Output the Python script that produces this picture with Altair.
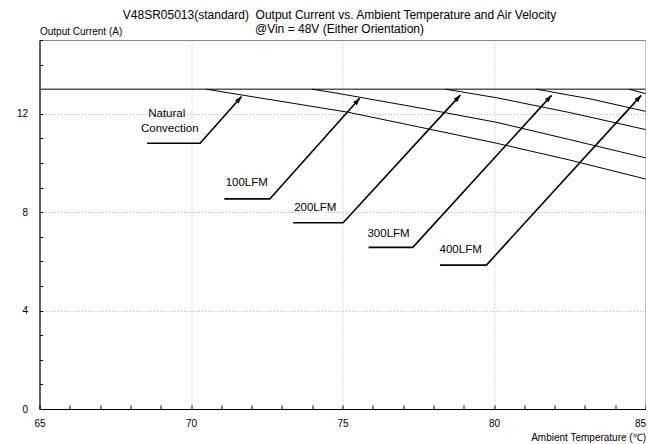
import math
import altair as alt
import pandas as pd

F = "Liberation Sans"

# ---- curve data (Ambient temperature °C, output current A) ----
nat_t = [70.5, 72.5, 75.2, 77.5, 80.1, 82.5, 85.0]
nat_i = [13.0, 12.6, 12.06, 11.47, 10.8, 10.12, 9.35]
lfm100_t = [74.0, 74.85, 77.5, 80.1, 82.5, 85.0]
lfm100_i = [13.0, 12.83, 12.25, 11.65, 10.95, 10.21]
lfm200_t = [78.4, 80.1, 82.5, 85.0]
lfm200_i = [13.0, 12.65, 12.05, 11.36]
lfm300_t = [81.4, 83.2, 85.0]
lfm300_i = [13.0, 12.6, 12.1]
lfm400_t = [84.45, 85.0]
lfm400_i = [13.0, 12.82]
max_t = [65.0, 85.0]
max_i = [13.0, 13.0]

# ---- annotation callouts ----
ann_names = ["Natural Convection", "100LFM", "200LFM", "300LFM", "400LFM"]
ann_ux = [68.55, 71.1, 73.37, 75.86, 78.22]   # underline start
ann_ex = [70.30, 72.6, 75.02, 77.32, 79.75]   # elbow
ann_ey = [10.80, 8.54, 7.57, 6.57, 5.85]
ann_tx = [71.67, 75.57, 78.89, 81.9, 84.86]   # arrow tip
ann_ty = [12.70, 12.63, 12.76, 12.75, 12.75]
lbl_text = ["Natural", "Convection", "100LFM", "200LFM", "300LFM", "400LFM"]
lbl_x = [69.2, 69.3, 71.84, 74.1, 76.52, 78.9]
lbl_y = [11.99, 11.38, 9.17, 8.16, 7.10, 6.46]

x_major = [65, 70, 75, 80, 85]
y_major = [0, 4, 8, 12]
x_minor = list(range(65, 86))
y_minor = list(range(0, 16))

W, H = 606.0, 369.0
XD, YD = [65, 85], [0, 15]

rows = []
for name, ts, cs in [("Natural Convection", nat_t, nat_i), ("100LFM", lfm100_t, lfm100_i),
                     ("200LFM", lfm200_t, lfm200_i), ("300LFM", lfm300_t, lfm300_i),
                     ("400LFM", lfm400_t, lfm400_i)]:
    for i, (t, c) in enumerate(zip(ts, cs)):
        rows.append({"series": name, "t": t, "i": c, "k": i})
curves = pd.DataFrame(rows)
flat = pd.DataFrame({"t": max_t, "i": max_i})

arows = []
heads = []
pxx = W / (XD[1] - XD[0])
pxy = H / (YD[1] - YD[0])
for n, ux, ex, ey, tx, ty in zip(ann_names, ann_ux, ann_ex, ann_ey, ann_tx, ann_ty):
    arows += [{"name": n, "t": ux, "i": ey, "k": 0},
              {"name": n, "t": ex, "i": ey, "k": 1},
              {"name": n, "t": tx, "i": ty, "k": 2}]
    ang = math.degrees(math.atan2((tx - ex) * pxx, (ty - ey) * pxy))
    heads.append({"name": n, "t": tx, "i": ty, "angle": ang})
arrows = pd.DataFrame(arows)
heads = pd.DataFrame(heads)
labels = pd.DataFrame({"text": lbl_text, "t": lbl_x, "i": lbl_y})

XS = alt.Scale(domain=XD, nice=False, zero=False)
YS = alt.Scale(domain=YD, nice=False, zero=False)

x_main = alt.Axis(orient="bottom", values=x_major, ticks=False, grid=True,
                  gridColor="#b5b5b5", gridDash=[1, 2], gridWidth=1,
                  domainColor="black", domainWidth=1,
                  labelFont=F, labelFontSize=10, labelColor="black", labelPadding=9,
                  labelFlush=False,
                  labelAlign={"condition": {"test": "datum.value >= 85", "value": "right"},
                              "value": "center"},
                  title="Ambient Temperature (℃)", titleFont=F, titleFontSize=10,
                  titleFontWeight="normal", titleColor="black", titleAlign="right",
                  titleAngle=0, titleX=W, titleY=28, titleBaseline="middle")
y_main = alt.Axis(orient="left", values=y_major, ticks=False, grid=True,
                  gridColor="#b5b5b5", gridDash=[1, 2], gridWidth=1,
                  domainColor="black", domainWidth=1,
                  labelFont=F, labelFontSize=10, labelColor="black", labelPadding=12,
                  title="Output Current (A)", titleFont=F, titleFontSize=10,
                  titleFontWeight="normal", titleColor="black", titleAlign="left",
                  titleAngle=0, titleX=0, titleY=-9, titleBaseline="middle")
x_minor_ax = alt.Axis(orient="bottom", values=x_minor, labels=False, grid=False, domain=False,
                      ticks=True, tickSize=4, tickColor="black", tickWidth=1, offset=-4, title="")
y_minor_ax = alt.Axis(orient="left", values=y_minor, labels=False, grid=False, domain=False,
                      ticks=True, tickSize=3, tickColor="black", tickWidth=1, offset=-3, title="")

flat_layer = alt.Chart(flat).mark_line(color="#555555", strokeWidth=1.5).encode(
    x=alt.X("t:Q", scale=XS, axis=x_minor_ax),
    y=alt.Y("i:Q", scale=YS, axis=y_minor_ax),
)
curve_layer = alt.Chart(curves).mark_line(color="black", strokeWidth=1).encode(
    x=alt.X("t:Q", scale=XS, axis=x_main),
    y=alt.Y("i:Q", scale=YS, axis=y_main),
    detail="series:N",
    order="k:Q",
)
arrow_layer = alt.Chart(arrows).mark_line(color="black", strokeWidth=1.6).encode(
    x=alt.X("t:Q", scale=XS, axis=None),
    y=alt.Y("i:Q", scale=YS, axis=None),
    detail="name:N",
    order="k:Q",
)
head_layer = alt.Chart(heads).mark_point(
    shape="M0,0L-0.55,1.6L0.55,1.6Z", filled=True, color="black", opacity=1, size=80
).encode(
    x=alt.X("t:Q", scale=XS, axis=None),
    y=alt.Y("i:Q", scale=YS, axis=None),
    angle=alt.Angle("angle:Q", scale=None),
)
text_layer = alt.Chart(labels).mark_text(
    font=F, fontSize=11.5, color="black", align="center", baseline="middle"
).encode(
    x=alt.X("t:Q", scale=XS, axis=None),
    y=alt.Y("i:Q", scale=YS, axis=None),
    text="text:N",
)

chart = alt.layer(flat_layer, curve_layer, arrow_layer, head_layer, text_layer).resolve_axis(
    x="independent", y="independent"
).properties(
    width=W, height=H,
    autosize=alt.AutoSizeParams(type="none"),
    padding={"left": 31.5, "top": 32, "right": 0.5, "bottom": 35},
    background="white",
    title=alt.TitleParams(
        text=["V48SR05013(standard)\u00a0 Output Current vs. Ambient Temperature and Air Velocity",
              "@Vin = 48V (Either Orientation)"],
        font=F, fontSize=12, fontWeight="normal", color="black",
        anchor="middle", offset=6, lineHeight=14, dx=-3, dy=16,
    ),
).configure_view(stroke="#888888", strokeWidth=1)

chart.save("out.html", embed_options={"renderer": "svg", "actions": False})
